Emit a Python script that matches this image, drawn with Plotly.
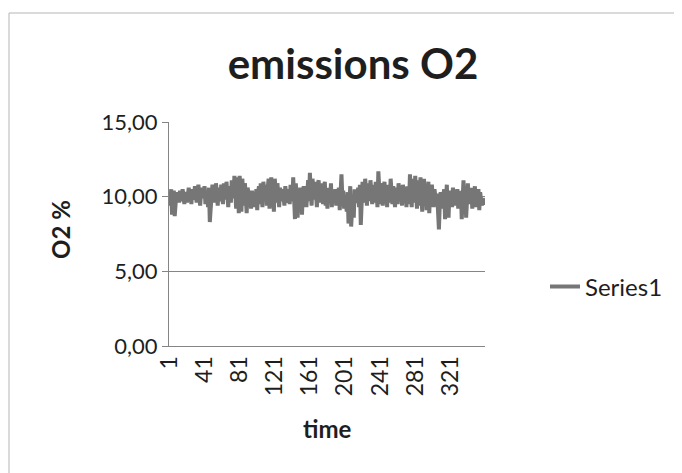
import plotly.graph_objects as go

# time index (categories)
time = list(range(1, 361))

# O2 % values (estimated)
o2 = [
    10.2, 9.4, 10.5, 8.8, 9.9, 10.4, 8.7, 9.6, 10.3, 9.8, 10.1, 9.6, 10.4, 10.2, 9.7, 10.5, 10.0, 9.5, 10.3, 10.1,
    9.6, 10.4, 10.6, 9.9, 10.2, 9.5, 10.5, 10.3, 9.8, 10.7, 10.1, 9.6, 10.4, 10.8, 10.0, 9.4, 10.3, 10.6, 9.9, 10.2,
    10.7, 9.5, 10.4, 10.1, 9.3, 10.6, 8.3, 9.2, 10.5, 10.8, 9.9, 10.3, 9.6, 10.9, 10.2, 9.4, 10.6, 10.0, 9.7, 10.8,
    10.3, 9.5, 10.9, 10.4, 9.8, 11.0, 10.2, 9.3, 10.7, 10.5, 9.6, 11.1, 10.3, 9.9, 11.4, 10.6, 9.2, 11.3, 10.8, 8.9,
    11.4, 10.2, 9.0, 11.2, 10.5, 9.4, 10.9, 10.1, 8.9, 10.6, 10.3, 9.5, 10.0, 9.2, 10.4, 9.8, 9.3, 10.2, 9.6, 10.5,
    9.1, 10.3, 10.7, 9.5, 10.9, 10.1, 9.3, 11.0, 10.4, 9.7, 10.8, 9.4, 10.6, 11.2, 9.2, 10.5, 11.3, 9.8, 10.2, 9.0,
    11.2, 10.4, 9.6, 10.9, 10.1, 9.3, 10.6, 10.2, 9.7, 10.5, 9.9, 9.4, 10.7, 10.3, 9.6, 10.0, 10.5, 9.5, 10.8, 10.2,
    9.7, 11.3, 10.4, 8.5, 10.9, 9.0, 8.6, 10.3, 9.8, 10.6, 9.4, 8.8, 10.2, 10.7, 9.6, 10.1, 9.3, 10.5, 11.1, 9.7,
    11.6, 10.3, 9.4, 11.2, 10.6, 9.8, 11.0, 10.2, 9.3, 10.8, 11.1, 9.6, 10.4, 9.9, 10.9, 9.5, 10.7, 11.0, 9.4, 10.3,
    9.2, 10.6, 10.1, 9.6, 10.9, 9.3, 10.4, 10.0, 9.7, 10.5, 9.4, 10.2, 9.8, 10.6, 9.1, 10.3, 11.5, 9.9, 10.4, 9.2,
    10.1, 9.6, 9.0, 10.3, 8.2, 9.5, 10.7, 8.0, 9.4, 10.1, 8.6, 10.5, 9.8, 9.6, 9.9, 10.6, 9.3, 10.8, 8.1, 9.5,
    11.0, 10.4, 9.6, 11.2, 10.1, 9.4, 10.9, 10.5, 9.7, 11.1, 10.3, 9.5, 10.8, 10.0, 9.6, 11.0, 10.4, 9.3, 11.7, 10.2,
    9.5, 10.9, 10.6, 9.4, 10.3, 11.0, 9.7, 10.5, 9.3, 10.8, 10.1, 9.6, 11.2, 10.4, 9.5, 10.7, 9.9, 9.3, 10.6, 10.2,
    9.5, 10.9, 10.3, 9.7, 10.5, 9.4, 10.8, 10.1, 9.6, 10.4, 9.3, 10.7, 10.2, 9.5, 11.5, 10.6, 9.3, 11.2, 10.4, 9.6,
    11.4, 10.7, 9.2, 11.1, 10.5, 9.4, 11.3, 10.2, 9.0, 10.8, 11.2, 9.5, 10.6, 9.1, 10.4, 11.0, 8.9, 10.3, 9.6, 10.8,
    9.9, 9.3, 10.5, 10.1, 9.4, 10.2, 9.0, 7.8, 9.5, 10.3, 9.8, 9.2, 10.1, 10.5, 8.5, 9.7, 10.8, 9.0, 8.6, 10.4,
    9.6, 10.2, 9.3, 10.6, 9.9, 9.4, 10.3, 9.7, 10.5, 9.2, 10.1, 9.6, 10.4, 8.5, 9.8, 11.1, 9.4, 10.7, 8.6, 10.2,
    10.9, 9.5, 10.3, 9.7, 10.6, 9.2, 10.4, 9.9, 10.7, 9.3, 10.1, 9.6, 10.5, 9.1, 10.3, 9.8, 9.4, 9.9, 9.5, 9.6,
]

y_ticks = [0, 5, 10, 15]
x_ticks = [1, 41, 81, 121, 161, 201, 241, 281, 321]

FONT = "Lato"
TXT = "#1e1e1e"
GRID = "#858585"

W, H = 674, 465          # page adds an 8px body margin
L, T, PW, PH = 161, 114, 316, 224
R, B = W - L - PW, H - T - PH
PB = T + PH              # plot bottom in figure px


def px_x(x):
    return (x - L) / PW


def px_y(y):
    return (PB - y) / PH


fig = go.Figure()
fig.add_trace(go.Scatter(
    x=time, y=o2, mode="lines", name="Series1",
    line=dict(color="#767676", width=4),
))

fig.update_layout(
    width=W, height=H,
    paper_bgcolor="white", plot_bgcolor="white",
    margin=dict(l=L, r=R, t=T, b=B),
    separators=",.",
    font=dict(family=FONT, color=TXT),
    title=dict(text="<b>emissions O2</b>", x=345 / W, xref="container", xanchor="center",
               y=1 - 56 / H, yref="container", yanchor="middle",
               font=dict(family=FONT, size=42, color=TXT)),
    showlegend=True,
    legend=dict(x=px_x(537), xanchor="left", y=px_y(279), yanchor="middle",
                font=dict(family=FONT, size=24, color=TXT),
                bgcolor="rgba(0,0,0,0)", itemwidth=30),
    xaxis=dict(
        range=[0.5, 360.5], tickmode="array", tickvals=x_ticks,
        ticktext=[str(v) for v in x_ticks], tickangle=-90,
        tickfont=dict(family=FONT, size=23, color=TXT),
        showgrid=False, zeroline=False, showline=True, linecolor=GRID, linewidth=1,
        ticks="", automargin=False,
    ),
    yaxis=dict(
        range=[0, 15], tickmode="array", tickvals=y_ticks, tickformat=".2f",
        tickfont=dict(family=FONT, size=22, color=TXT),
        showgrid=True, gridcolor=GRID, gridwidth=1,
        zeroline=False, showline=True, linecolor=GRID, linewidth=1,
        ticks="outside", ticklen=6, tickcolor=GRID, automargin=False,
    ),
    annotations=[
        dict(text="<b>O2 %</b>", x=px_x(52), xref="paper", y=px_y(222), yref="paper",
             xanchor="center", yanchor="middle",
             showarrow=False, textangle=-90, font=dict(family=FONT, size=24, color=TXT)),
        dict(text="<b>time</b>", x=px_x(319), xref="paper", y=px_y(420), yref="paper",
             xanchor="center", yanchor="middle",
             showarrow=False, font=dict(family=FONT, size=24, color=TXT)),
    ],
    shapes=[
        dict(type="rect", xref="paper", yref="paper",
             x0=px_x(1), x1=px_x(668), y0=px_y(470), y1=px_y(5),
             line=dict(color="#b5b5b5", width=1), layer="below"),
    ],
)

fig.write_html("out.html")
